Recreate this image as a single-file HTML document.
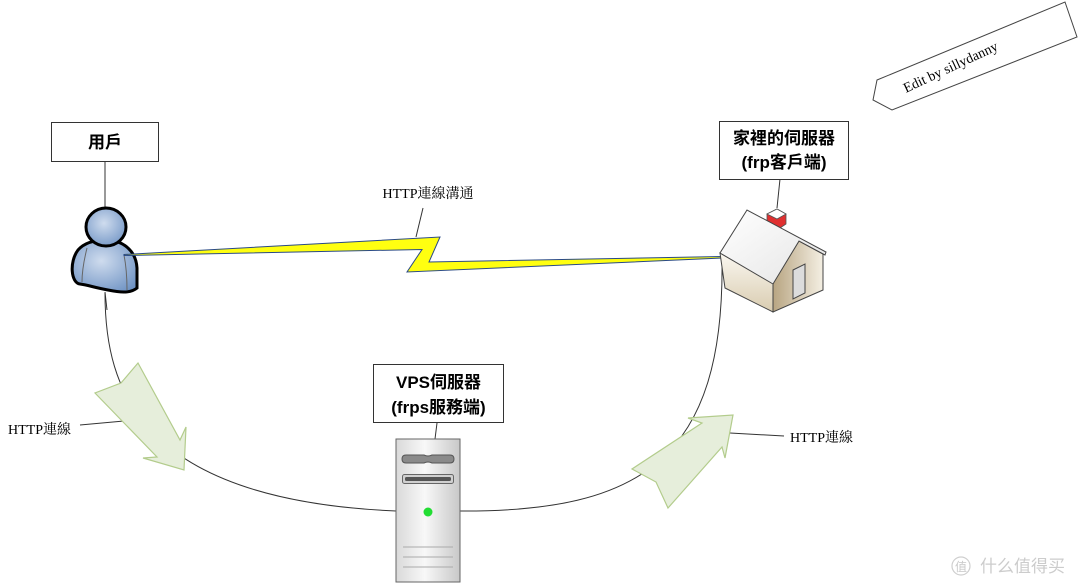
<!DOCTYPE html>
<html><head><meta charset="utf-8">
<style>
html,body{margin:0;padding:0;background:#fff;}
svg{display:block;}
.lbl{font-family:"Liberation Sans","Noto Sans CJK TC",sans-serif;font-weight:bold;font-size:17px;fill:#000;}
.ser{font-family:"Liberation Serif","Noto Serif CJK SC","Noto Sans CJK TC",serif;font-size:14px;fill:#000;}
</style></head>
<body>
<svg width="1080" height="585" viewBox="0 0 1080 585" xmlns="http://www.w3.org/2000/svg">
<defs>
  <radialGradient id="pg" cx="0.45" cy="0.4" r="0.7">
    <stop offset="0" stop-color="#cfdcee"/>
    <stop offset="1" stop-color="#6f93c4"/>
  </radialGradient>
  <linearGradient id="srv" x1="0" y1="0" x2="1" y2="0">
    <stop offset="0" stop-color="#d9d9d9"/>
    <stop offset="0.45" stop-color="#f8f8f8"/>
    <stop offset="1" stop-color="#c8c8c8"/>
  </linearGradient>
  <linearGradient id="roof" x1="0" y1="0" x2="1" y2="1">
    <stop offset="0" stop-color="#ffffff"/>
    <stop offset="1" stop-color="#e4e4e4"/>
  </linearGradient>
  <linearGradient id="lwall" x1="0" y1="0" x2="0" y2="1">
    <stop offset="0" stop-color="#faf7f0"/>
    <stop offset="1" stop-color="#d9ccb0"/>
  </linearGradient>
  <linearGradient id="fwall" x1="0" y1="0" x2="1" y2="0">
    <stop offset="0" stop-color="#b8a582"/>
    <stop offset="1" stop-color="#f4efe3"/>
  </linearGradient>
</defs>

<!-- connecting curves -->
<path d="M105,293 C105,390 140,500 396,511" fill="none" stroke="#333" stroke-width="1"/>
<path d="M460,511 C640,512 725,460 722,258" fill="none" stroke="#333" stroke-width="1"/>

<!-- label lines -->
<line x1="80" y1="425" x2="124" y2="421" stroke="#333" stroke-width="1"/>
<line x1="730" y1="433" x2="784" y2="436" stroke="#333" stroke-width="1"/>
<line x1="423" y1="208" x2="416" y2="237" stroke="#333" stroke-width="1"/>

<!-- green arrows -->
<polygon points="138,363 180,440 186,427 184,470 143,458 157,457 95,393 121,383" fill="#e6eedb" stroke="#b3cc8c" stroke-width="1.2"/>
<polygon points="632,469 656,482 668,508 722,447 725,458 733,415 688,418 702,423" fill="#e6eedb" stroke="#b3cc8c" stroke-width="1.2"/>

<!-- server box -->
<line x1="437" y1="423" x2="435" y2="439" stroke="#333"/>
<rect x="373.5" y="364.5" width="130" height="58" fill="#fff" stroke="#333"/>
<text class="lbl" x="438.5" y="388" text-anchor="middle">VPS伺服器</text>
<text class="lbl" x="438.5" y="413" text-anchor="middle">(frps服務端)</text>

<!-- server tower -->
<rect x="396" y="439" width="64" height="143" fill="url(#srv)" stroke="#666" stroke-width="1"/>
<path d="M406,455 L424,455 Q428,457 432,455 L450,455 Q454,455 454,459 Q454,463 450,463 L432,463 Q428,461 424,463 L406,463 Q402,463 402,459 Q402,455 406,455 Z" fill="#8a8a8a" stroke="#555" stroke-width="1"/>
<rect x="402.5" y="474.5" width="51" height="9" rx="2" fill="#d0d0d0" stroke="#666"/>
<rect x="405" y="477" width="46" height="4" rx="1.5" fill="#555"/>
<circle cx="428" cy="512" r="4.5" fill="#22dd33"/>
<line x1="403" y1="547" x2="453" y2="547" stroke="#aaa"/>
<line x1="403" y1="557" x2="453" y2="557" stroke="#aaa"/>
<line x1="403" y1="567" x2="453" y2="567" stroke="#aaa"/>

<!-- user -->
<rect x="51.5" y="122.5" width="107" height="39" fill="#fff" stroke="#333"/>
<text class="lbl" x="105" y="148" text-anchor="middle">用戶</text>
<line x1="105" y1="162" x2="105" y2="208" stroke="#333"/>
<line x1="105" y1="292" x2="107" y2="310" stroke="#333"/>
<path d="M80,284 C71,283 69,262 78,250 C85,242 96,240 106,240 C122,240 136,250 137,268 L137,288 C130,294 118,292 108,290 C96,288 88,285 80,284 Z" fill="url(#pg)" stroke="#000" stroke-width="3"/>
<path d="M87,248 C84,260 82,270 82,282" fill="none" stroke="#666" stroke-width="1"/>
<path d="M124,255 C126,265 127,278 127,290" fill="none" stroke="#666" stroke-width="1"/>
<ellipse cx="106" cy="227" rx="20" ry="19" fill="url(#pg)" stroke="#000" stroke-width="3"/>

<!-- lightning -->
<polygon points="124,254.5 440,237 429,262 722,256.5 722,258 407,272 422,249.5 124,255.5" fill="#ffff10" stroke="#2a4a86" stroke-width="1" stroke-linejoin="miter"/>
<text class="ser" x="428" y="198" text-anchor="middle">HTTP連線溝通</text>

<!-- house label -->
<rect x="719.5" y="121.5" width="129" height="58" fill="#fff" stroke="#333"/>
<text class="lbl" x="784" y="144" text-anchor="middle">家裡的伺服器</text>
<text class="lbl" x="784" y="168" text-anchor="middle">(frp客戶端)</text>
<line x1="780" y1="179" x2="777" y2="208" stroke="#333"/>

<!-- house -->
<polygon points="720,253 725,288 773,312 773,283" fill="url(#lwall)" stroke="#444" stroke-width="1"/>
<polygon points="773,283 799,241 823,254 823,290 773,312" fill="url(#fwall)" stroke="#444" stroke-width="1"/>
<polygon points="767,214 767,224 777,230 786,224 786,214 777,209" fill="#e03030" stroke="#555" stroke-width="0.8"/>
<polygon points="767,214 777,209 786,214 777,219" fill="#fff" stroke="#555" stroke-width="0.8"/>
<polygon points="747,210 720,253 773,284 799,241 825,255 826,252" fill="url(#roof)" stroke="#444" stroke-width="1"/>
<polygon points="793,270 805,264 805,293 793,299" fill="#dcdcdc" stroke="#444" stroke-width="1"/>

<!-- labels -->
<text class="ser" x="8" y="434">HTTP連線</text>
<text class="ser" x="790" y="442">HTTP連線</text>

<!-- banner -->
<polygon points="877,80 1065,2 1077,37 892,110 873,100" fill="#fff" stroke="#444" stroke-width="1"/>
<text class="ser" x="0" y="0" text-anchor="middle" dominant-baseline="central" transform="translate(951,68) rotate(-25)" font-size="14">Edit by sillydanny</text>

<!-- watermark -->
<circle cx="961" cy="566" r="9" fill="none" stroke="#cfcfcf" stroke-width="1.2"/>
<text x="961" y="571" text-anchor="middle" font-family="'Noto Sans CJK SC',sans-serif" font-size="12" fill="#c8c8c8">值</text>
<text x="980" y="572" font-family="'Noto Sans CJK SC',sans-serif" font-size="17" fill="#cccccc">什么值得买</text>
</svg>
</body></html>
